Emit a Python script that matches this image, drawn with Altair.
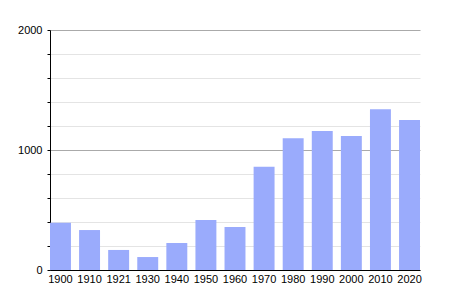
import altair as alt
import pandas as pd

years = ["1900", "1910", "1921", "1930", "1940", "1950", "1960", "1970",
         "1980", "1990", "2000", "2010", "2020"]
population = [394, 333, 167, 108, 225, 417, 358, 861, 1097, 1158, 1117, 1339, 1250]
y_ticks = list(range(0, 2001, 200))

df = pd.DataFrame({"year": years, "pop": population})

chart = alt.Chart(df).mark_bar(color="#9aabfc").encode(
    x=alt.X("year:N", sort=years, title=None,
            scale=alt.Scale(paddingInner=0.28, paddingOuter=0),
            axis=alt.Axis(labelAngle=0, ticks=False, domainColor="black",
                          labelColor="black", labelFontSize=11, labelPadding=3,
                          labelFont="Liberation Sans")),
    y=alt.Y("pop:Q", title=None,
            scale=alt.Scale(domain=[0, 2000], nice=False),
            axis=alt.Axis(values=y_ticks, labelExpr="datum.value % 1000 == 0 ? datum.label : ''",
                          format="d", tickSize=3, tickColor="black", domainColor="black",
                          labelColor="black", labelFontSize=11, labelPadding=5,
                          labelFont="Liberation Sans",
                          gridColor={"condition": {"test": "datum.value % 1000 == 0", "value": "#aaaaaa"},
                                     "value": "#e4e4e4"})),
).properties(
    width=370, height=240,
    autosize=alt.AutoSizeParams(type="none"),
    padding={"left": 50, "top": 30, "right": 30, "bottom": 30},
).configure_view(stroke=None)

chart.save("out.html", embed_options={"renderer": "svg", "actions": False})
